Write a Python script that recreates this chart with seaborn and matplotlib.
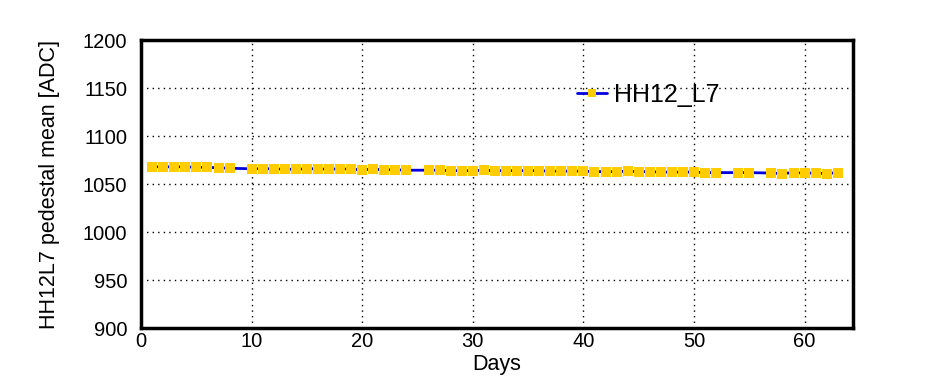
import matplotlib
matplotlib.use("Agg")
import matplotlib.pyplot as plt
from matplotlib.ticker import MultipleLocator
import seaborn as sns
import pandas as pd

# pedestal mean per day (days 9, 25, 53, 56 missing)
days = [1, 2, 3, 4, 5, 6, 7, 8,
        10, 11, 12, 13, 14, 15, 16, 17, 18, 19, 20, 21, 22, 23, 24,
        26, 27, 28, 29, 30, 31, 32, 33, 34, 35, 36, 37, 38, 39, 40,
        41, 42, 43, 44, 45, 46, 47, 48, 49, 50, 51, 52,
        54, 55,
        57, 58, 59, 60, 61, 62, 63]
ped_mean = [1068, 1068, 1068, 1068, 1067.5, 1067.5, 1067, 1066.5,
            1066, 1066, 1066, 1065.5, 1065.5, 1066, 1066, 1065.5, 1066, 1065.5,
            1065, 1065.5, 1065, 1065, 1064.5,
            1064.5, 1064.5, 1064, 1064, 1064, 1064.5, 1064, 1064, 1064, 1064,
            1064, 1063.5, 1063.5, 1063.5, 1063.5, 1063, 1063, 1063, 1063.5, 1063,
            1063, 1062.5, 1062.5, 1062.5, 1062.5, 1062, 1062,
            1062, 1062,
            1061.5, 1061, 1062, 1061.5, 1061.5, 1061, 1062]
channel = "HH12_L7"

df = pd.DataFrame({"day": days, "mean": ped_mean})

sns.set_style("white")
plt.rcParams["font.family"] = ["Liberation Sans", "DejaVu Sans"]
plt.rcParams["text.color"] = "black"
plt.rcParams["axes.labelcolor"] = "black"

fig = plt.figure(figsize=(9.47, 3.86), dpi=100)
ax = fig.add_axes([0.149, 0.150, 0.752, 0.746])

sns.lineplot(data=df, x="day", y="mean", ax=ax, color="#0000dd", lw=2,
             marker="s", markersize=7.8, markerfacecolor="#ffcc00",
             markeredgewidth=0, label=channel)

ax.set_xlim(0, 64.4)
ax.set_ylim(900, 1200)
ax.xaxis.set_major_locator(MultipleLocator(10))
ax.xaxis.set_minor_locator(MultipleLocator(2))
ax.yaxis.set_major_locator(MultipleLocator(50))
ax.yaxis.set_minor_locator(MultipleLocator(10))
ax.tick_params(which="both", direction="in", top=False, right=False,
               width=1.5, labelsize=14.5, colors="black", labelcolor="black")
ax.tick_params(which="major", length=8)
ax.tick_params(which="minor", length=4.5)
ax.tick_params(axis="x", pad=3)
ax.tick_params(axis="y", pad=10)
ax.grid(True, which="major", color="black", ls=(0, (1, 3)), lw=1)

for s in ax.spines.values():
    s.set_linewidth(2.5)
    s.set_color("black")

ax.set_xlabel("Days", fontsize=15.5, labelpad=2)
ax.set_ylabel("HH12L7 pedestal mean [ADC]", fontsize=15.5, labelpad=16)

ax.legend(loc="upper left", bbox_to_anchor=(0.58, 0.93), frameon=False,
          fontsize=18, handlelength=1.2, handletextpad=0.3, markerscale=0.75)

fig.savefig("out.png", dpi=100)
